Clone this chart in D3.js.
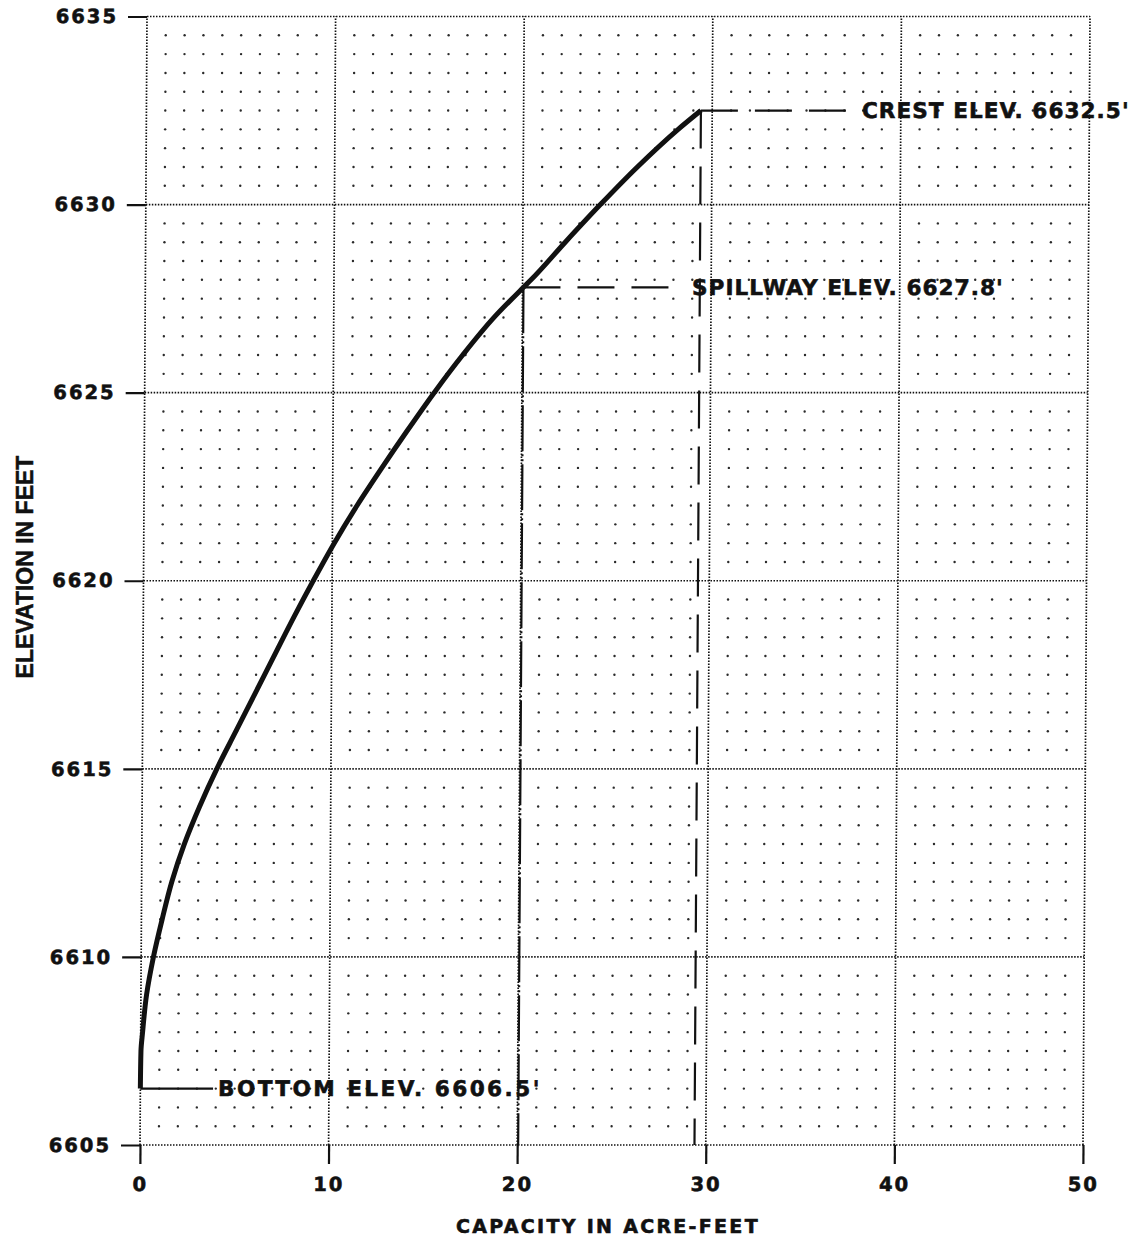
<!DOCTYPE html>
<html>
<head>
<meta charset="utf-8">
<script src="https://cdn.jsdelivr.net/npm/d3@7"></script>
<style>
  body { margin: 0; background: #fff; }
  .lbl { font-family: "DejaVu Sans", sans-serif; font-weight: bold; fill: #111; stroke: #111; stroke-width: 0.6px; }
</style>
</head>
<body>
<div id="chart"></div>
<script>
// elevation-capacity curve of the pond
const elevation = [6606.5, 6607.5, 6608, 6609, 6610, 6611, 6612, 6613, 6614, 6615,
  6616, 6617, 6618, 6619, 6620, 6621, 6622, 6623, 6624, 6625,
  6626, 6627, 6627.8, 6628, 6629, 6630, 6631, 6632, 6632.5];
const capacity = [0, 0.02, 0.1, 0.3, 0.65, 1.1, 1.6, 2.25, 3.05, 3.95,
  4.95, 5.95, 6.95, 7.95, 9.0, 10.1, 11.3, 12.6, 13.95, 15.35,
  16.85, 18.5, 20.05, 20.45, 22.25, 24.1, 26.05, 28.2, 29.4];

const xTicks = [0, 10, 20, 30, 40, 50];
const yTicks = [6605, 6610, 6615, 6620, 6625, 6630, 6635];

// reference elevations (bottom, spillway, crest)
const refNames = ["BOTTOM ELEV. 6606.5'", "SPILLWAY ELEV. 6627.8'", "CREST ELEV. 6632.5'"];
const refElev = [6606.5, 6627.8, 6632.5];
const refCap = [0, 20.05, 29.4];
const refLabelAt = [4.12, 28.99, 37.94];

const width = 1148, height = 1243;
const svg = d3.select("#chart").append("svg")
  .attr("width", width).attr("height", height);
svg.append("rect").attr("width", width).attr("height", height).attr("fill", "#fff");

const x = d3.scaleLinear().domain([0, 50]).range([140, 1083]);
const y = d3.scaleLinear().domain([6605, 6635]).range([1145, 16.5]);

// the scanned sheet leans a little, shear the plot to follow it
const lean = Math.atan(-7 / 1128) * 180 / Math.PI;
const g = svg.append("g")
  .attr("transform", "translate(0,1145) skewX(" + lean + ") translate(0,-1145)");

// minor dot lattice: every acre-foot and every half foot
const dotX = d3.range(1, 50).filter(v => v % 10 !== 0);
const dotY = d3.range(6605.5, 6635, 0.5).filter(v => v % 5 !== 0);
g.append("g").selectAll("circle")
  .data(d3.cross(dotX, dotY)).enter()
  .append("circle")
  .attr("cx", d => x(d[0])).attr("cy", d => y(d[1]))
  .attr("r", 1.2).attr("fill", "#2a2a2a");

// dotted major grid and frame
const grid = g.append("g").attr("stroke", "#111").attr("stroke-width", 1.7)
  .attr("stroke-dasharray", "1.5,1.5");
grid.selectAll(".vx").data(xTicks).enter().append("line")
  .attr("x1", d => x(d)).attr("x2", d => x(d))
  .attr("y1", y(6605)).attr("y2", y(6635));
grid.selectAll(".hy").data(yTicks).enter().append("line")
  .attr("x1", x(0)).attr("x2", x(50))
  .attr("y1", d => y(d)).attr("y2", d => y(d));

// axes
const yAxis = g.append("g").attr("transform", "translate(" + x(0) + ",0)")
  .call(d3.axisLeft(y).tickValues(yTicks).tickSize(19).tickPadding(10).tickFormat(d3.format("d")));
const xAxis = g.append("g").attr("transform", "translate(0," + y(6605) + ")")
  .call(d3.axisBottom(x).tickValues(xTicks).tickSize(19).tickPadding(13).tickFormat(d3.format("d")));
[yAxis, xAxis].forEach(a => {
  a.select(".domain").remove();
  a.selectAll(".tick line").attr("stroke", "#111").attr("stroke-width", 2.2);
  a.selectAll(".tick text").attr("class", "lbl").attr("fill", null)
    .style("font-size", "19.5px").style("letter-spacing", "2px");
});

// reference lines
const leaderGap = [5, 15, 15];
const leaderDash = [null, "37,17", "37,17"];
const dropDash = [null, "46,3,2,3,2,3", "38,18"];
const labelSpacing = ["2.5px", "1.1px", "1.1px"];
const refs = refNames.map((n, i) => ({ i: i, name: n }));

g.append("g").selectAll("line").data(refs).enter().append("line")
  .attr("x1", d => x(refCap[d.i])).attr("x2", d => x(refLabelAt[d.i]) - leaderGap[d.i])
  .attr("y1", d => y(refElev[d.i])).attr("y2", d => y(refElev[d.i]))
  .attr("stroke", "#111").attr("stroke-width", 2.2)
  .attr("stroke-dasharray", d => leaderDash[d.i]);

g.append("g").selectAll("line").data(refs.filter(d => d.i > 0)).enter().append("line")
  .attr("x1", d => x(refCap[d.i])).attr("x2", d => x(refCap[d.i]))
  .attr("y1", d => y(refElev[d.i])).attr("y2", y(6605))
  .attr("stroke", "#111").attr("stroke-width", 2.2)
  .attr("stroke-dasharray", d => dropDash[d.i]);

g.append("g").selectAll("text").data(refs).enter().append("text")
  .attr("class", "lbl")
  .attr("x", d => x(refLabelAt[d.i])).attr("y", d => y(refElev[d.i]))
  .attr("dy", "0.36em")
  .style("font-size", "21.5px").style("letter-spacing", d => labelSpacing[d.i])
  .text(d => d.name);

// capacity curve
const line = d3.line()
  .x(d => x(d[0])).y(d => y(d[1]))
  .curve(d3.curveMonotoneY);
g.append("path")
  .datum(d3.zip(capacity, elevation))
  .attr("d", line)
  .attr("fill", "none").attr("stroke", "#111")
  .attr("stroke-width", 5).attr("stroke-linejoin", "round");

// axis titles
svg.append("text").attr("class", "lbl")
  .attr("x", 608).attr("y", 1233)
  .attr("text-anchor", "middle")
  .style("font-size", "19px").style("letter-spacing", "2.3px")
  .text("CAPACITY IN ACRE-FEET");

svg.append("text")
  .attr("transform", "translate(33,567) rotate(-90)")
  .attr("text-anchor", "middle")
  .style("font-family", "'Liberation Sans', Arial, sans-serif")
  .style("font-weight", "bold").style("font-size", "23px")
  .style("fill", "#111").style("stroke", "#111").style("stroke-width", "0.5px")
  .text("ELEVATION IN FEET");
</script>
</body>
</html>
